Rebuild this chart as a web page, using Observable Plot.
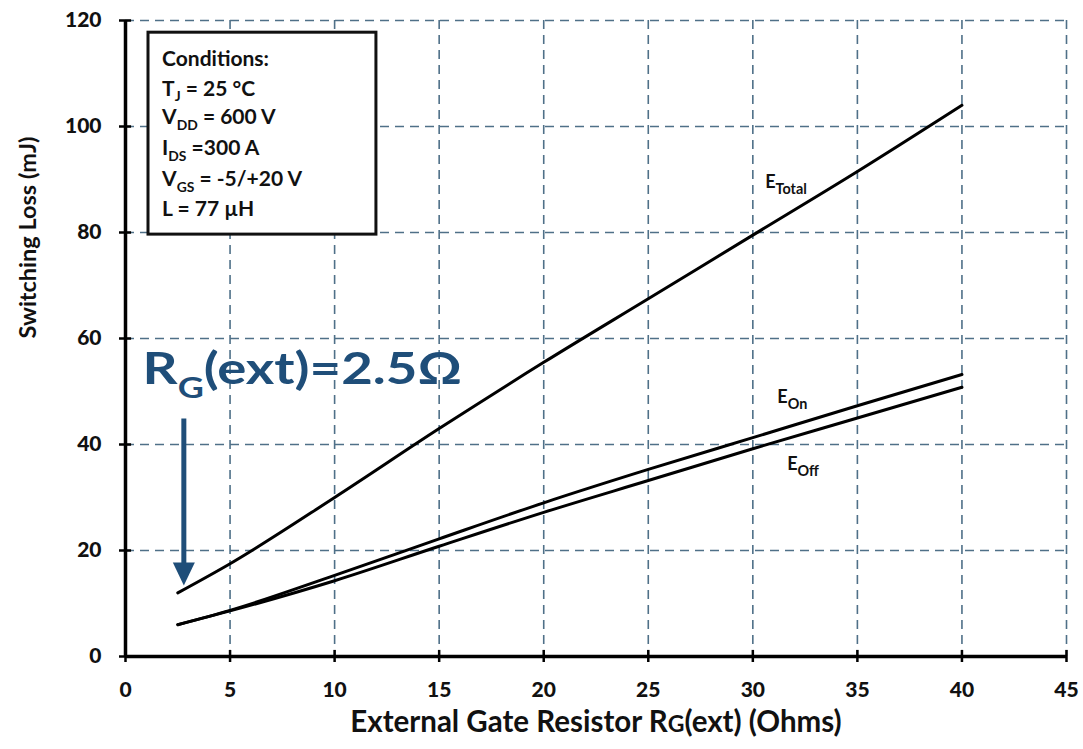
<!DOCTYPE html>
<html>
<head>
<meta charset="utf-8">
<script src="https://cdn.jsdelivr.net/npm/d3@7"></script>
<script src="https://cdn.jsdelivr.net/npm/@observablehq/plot@0.6"></script>
<style>
  html, body { margin: 0; padding: 0; background: #fff; }
  svg { font-family: Lato, "Open Sans", sans-serif; }
</style>
</head>
<body>
<div id="chart"></div>
<script>
// ---- data ----
const rg = [2.5, 5, 10, 15, 20, 25, 30, 35, 40];
const eTotal = [12, 17.5, 30, 43, 55.5, 67.5, 79.5, 91.5, 104];
const eOn = [6.0, 8.7, 15.3, 22.2, 29, 35.3, 41.3, 47.3, 53.2];
const eOff = [6.0, 8.6, 14.3, 20.8, 27.2, 33.2, 39.2, 45, 50.8];
const seriesNames = ["E{Total}", "E{On}", "E{Off}"];
const labelX = [30.59, 31.17, 31.64];
const labelY = [89.5, 48.9, 36.2];
const xTicks = [0, 5, 10, 15, 20, 25, 30, 35, 40, 45];
const yTicks = [0, 20, 40, 60, 80, 100, 120];
const xLabel = "External Gate Resistor R[G](ext) (Ohms)";
const yLabel = "Switching Loss (mJ)";
const conditions = ["Conditions:", "T{J} = 25 °C", "V{DD} = 600 V", "I{DS} =300 A", "V{GS} = -5/+20 V", "L = 77 µH"];
const conditionY = [112.6, 107.1, 101.7, 95.8, 90.0, 84.3];
const boxX = [1.1, 12.0];
const boxY = [79.6, 117.7];
const noteText = "R{G}(ext)=2.5Ω";
const noteX = 0.81, noteY = 54.15;
const arrowX = 2.79, arrowY1 = 44.9, arrowY2 = 17.5, arrowHeadY = 15.57;

const rows = [];
rg.forEach((x, i) => {
  rows.push({x, y: eTotal[i], s: "Total"});
  rows.push({x, y: eOn[i], s: "On"});
  rows.push({x, y: eOff[i], s: "Off"});
});
const blue = "#1f4e79";
const grid = "#4f7088";

// downward arrow head: 22 wide, 23 tall at r = 10
const headDown = {
  draw(ctx, size) {
    const k = Math.sqrt(size) / 17.72;
    ctx.moveTo(-11 * k, -11.5 * k);
    ctx.lineTo(11 * k, -11.5 * k);
    ctx.lineTo(0, 11.5 * k);
    ctx.closePath();
  }
};

const chart = Plot.plot({
  width: 1083,
  height: 749,
  marginLeft: 125,
  marginRight: 17,
  marginTop: 20,
  marginBottom: 93,
  style: {fontFamily: "Lato, 'Open Sans', sans-serif", background: "#fff"},
  x: {domain: [0, 45]},
  y: {domain: [0, 120]},
  marks: [
    Plot.gridX(xTicks.slice(1), {stroke: grid, strokeOpacity: 1, strokeWidth: 1.6, strokeDasharray: "9,6"}),
    Plot.gridY(yTicks.slice(1), {stroke: grid, strokeOpacity: 1, strokeWidth: 1.6, strokeDasharray: "9,6"}),
    Plot.rect([0], {x1: boxX[0], x2: boxX[1], y1: boxY[0], y2: boxY[1], fill: "#fff", stroke: "#111", strokeWidth: 3}),
    Plot.text(conditions, {x: 1.75, y: (d, i) => conditionY[i], text: d => d, textAnchor: "start", fontSize: 21, fontWeight: "bold", fill: "#111", className: "cond"}),
    Plot.line(rows, {x: "x", y: "y", z: "s", stroke: "#000", strokeWidth: 3, curve: "monotone-x"}),
    Plot.text(seriesNames, {x: (d, i) => labelX[i], y: (d, i) => labelY[i], text: d => d, textAnchor: "start", fontSize: 18, fontWeight: "bold", fill: "#111", className: "elabel"}),
    Plot.ruleX([0], {stroke: "#000", strokeWidth: 3.5}),
    Plot.ruleY([0], {stroke: "#000", strokeWidth: 3.5}),
    Plot.ruleX(xTicks, {x: d => d, y1: 0, y2: 1.15, stroke: "#000", strokeWidth: 2.5}),
    Plot.ruleY(yTicks, {y: d => d, x1: 0, x2: 0.29, stroke: "#000", strokeWidth: 2.5}),
    Plot.axisX(xTicks, {tickSize: 6, tickPadding: 20, fontSize: 21, fontWeight: 900, stroke: "#000", strokeWidth: 2.5, fill: "#111", label: null}),
    Plot.axisY(yTicks, {tickSize: 6, tickPadding: 18, fontSize: 21, fontWeight: 900, stroke: "#000", strokeWidth: 2.5, fill: "#111", label: null}),
    Plot.text([xLabel], {frameAnchor: "bottom", dy: 75, text: d => d, fontSize: 29.5, fontWeight: "bold", fill: "#111"}),
    Plot.text([yLabel], {frameAnchor: "left", dx: -97, rotate: -90, text: d => d, fontSize: 23.5, fontWeight: "bold", fill: "#111"}),
    Plot.link([0], {x1: arrowX, x2: arrowX, y1: arrowY1, y2: arrowY2, stroke: blue, strokeWidth: 5}),
    Plot.dot([0], {x: arrowX, y: arrowHeadY, symbol: headDown, r: 10, fill: blue, stroke: "none"}),
    Plot.text([noteText], {x: noteX, y: noteY, text: d => d, textAnchor: "start", fontSize: 44, fontWeight: "bold", fill: blue, className: "note"})
  ]
});

document.getElementById("chart").appendChild(chart);

// subscripts: {..} = lowered small; [..] = small, same baseline
d3.select(chart).selectAll("text").each(function() {
  const el = d3.select(this);
  const t = this.textContent;
  if (!/[\{\[]/.test(t)) return;
  const fs = parseFloat(getComputedStyle(this).fontSize) || 16;
  const isE = this.closest(".elabel") != null;
  const isCond = this.closest(".cond") != null;
  const ratio = isE ? 0.8 : 0.66;
  const shift = isCond ? 0.26 : 0.33;
  el.text(null);
  const parts = t.split(/(\{[^}]*\}|\[[^\]]*\])/).filter(p => p.length);
  let shifted = 0;
  parts.forEach(p => {
    const ts = el.append("tspan");
    if (p[0] === "{") {
      const dy = fs * shift;
      ts.attr("font-size", fs * ratio).attr("dy", dy - shifted).text(p.slice(1, -1));
      shifted = dy;
    } else if (p[0] === "[") {
      ts.attr("font-size", fs * 0.78).attr("dy", -shifted).text(p.slice(1, -1));
      shifted = 0;
    } else {
      ts.attr("dy", -shifted).text(p);
      shifted = 0;
    }
  });
});

// the reference's big note is set in a wide face: stretch it horizontally about its start
const x0 = chart.scale("x").apply(noteX);
d3.select(chart).selectAll("g.note").each(function() {
  const prev = this.getAttribute("transform") || "";
  this.setAttribute("transform", `translate(${x0},0) scale(1.24,1) translate(${-x0},0) ${prev}`);
});
</script>
</body>
</html>
